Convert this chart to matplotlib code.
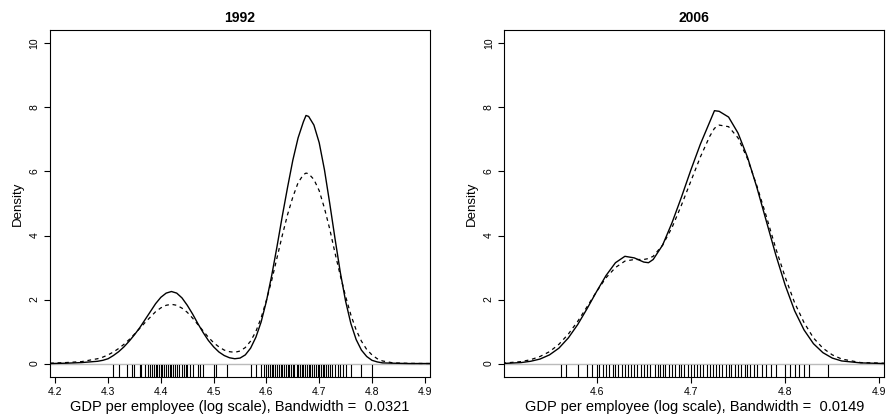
import matplotlib
matplotlib.use("Agg")
import matplotlib.pyplot as plt

plt.rcParams['font.family'] = ['Liberation Sans', 'DejaVu Sans']

x1 = [4.19,4.22,4.25,4.28,4.29,4.30,4.31,4.32,4.33,4.34,4.35,4.36,4.37,4.38,4.39,4.40,4.41,4.42,4.43,4.44,4.45,4.46,4.47,4.48,4.49,4.50,4.51,4.52,4.53,4.54,4.55,4.56,4.57,4.58,4.59,4.60,4.61,4.62,4.63,4.64,4.65,4.66,4.67,4.675,4.68,4.69,4.70,4.71,4.72,4.73,4.74,4.75,4.76,4.77,4.78,4.79,4.80,4.81,4.82,4.84,4.87,4.91]
s1 = [0,0.01,0.03,0.07,0.1,0.15,0.25,0.37,0.52,0.7,0.9,1.12,1.37,1.62,1.87,2.07,2.2,2.25,2.2,2.05,1.82,1.55,1.25,0.97,0.72,0.52,0.36,0.25,0.18,0.15,0.17,0.27,0.48,0.82,1.3,1.95,2.75,3.65,4.6,5.5,6.35,7.05,7.55,7.75,7.72,7.45,6.9,6.05,5.0,3.9,2.85,1.95,1.25,0.75,0.42,0.22,0.1,0.05,0.02,0.01,0,0]
d1 = [0.01,0.03,0.06,0.15,0.2,0.27,0.36,0.47,0.6,0.75,0.92,1.1,1.28,1.45,1.62,1.74,1.82,1.85,1.82,1.73,1.6,1.42,1.22,1.02,0.82,0.65,0.52,0.42,0.37,0.35,0.39,0.5,0.7,1.0,1.43,1.98,2.6,3.3,4.0,4.65,5.2,5.65,5.9,5.95,5.93,5.75,5.4,4.85,4.2,3.45,2.75,2.1,1.52,1.05,0.7,0.44,0.27,0.15,0.08,0.02,0.005,0]
rug1 = [4.31,4.32,4.335,4.345,4.35,4.36,4.363,4.37,4.375,4.38,4.383,4.387,4.39,4.393,4.397,4.40,4.403,4.406,4.41,4.413,4.417,4.42,4.423,4.427,4.43,4.435,4.44,4.443,4.447,4.45,4.455,4.46,4.47,4.475,4.48,4.50,4.505,4.525,
        4.57,4.58,4.59,4.595,4.60,4.603,4.606,4.61,4.613,4.617,4.62,4.623,4.627,4.63,4.633,4.637,4.64,4.643,4.647,4.65,4.653,4.657,4.66,4.663,4.667,4.67,4.673,4.677,4.68,4.683,4.687,4.69,4.693,4.697,4.70,4.703,4.707,4.71,4.713,4.717,4.72,4.725,4.73,4.735,4.74,4.745,4.75,4.76,4.78,4.80]

x2 = [4.50,4.52,4.53,4.54,4.55,4.56,4.57,4.58,4.59,4.60,4.61,4.62,4.63,4.64,4.65,4.655,4.66,4.67,4.68,4.69,4.70,4.71,4.72,4.725,4.73,4.74,4.75,4.76,4.77,4.78,4.79,4.80,4.81,4.82,4.83,4.84,4.85,4.86,4.88,4.905]
s2 = [0,0.03,0.07,0.14,0.27,0.48,0.8,1.22,1.72,2.25,2.75,3.15,3.35,3.3,3.17,3.15,3.25,3.7,4.4,5.2,6.05,6.85,7.55,7.9,7.88,7.7,7.2,6.45,5.5,4.45,3.4,2.45,1.65,1.05,0.62,0.34,0.17,0.08,0.02,0]
d2 = [0.01,0.06,0.12,0.22,0.37,0.6,0.92,1.32,1.78,2.25,2.68,3.0,3.2,3.25,3.25,3.28,3.35,3.7,4.25,4.95,5.7,6.45,7.1,7.35,7.45,7.4,7.05,6.4,5.55,4.6,3.6,2.7,1.9,1.28,0.8,0.48,0.27,0.14,0.03,0.01]
rug2 = [4.562,4.568,4.58,4.59,4.595,4.60,4.603,4.607,4.61,4.613,4.617,4.62,4.623,4.627,4.63,4.633,4.637,4.64,4.643,4.647,4.65,4.653,4.657,4.662,4.665,4.667,4.67,4.673,4.677,4.68,4.683,4.687,4.69,4.693,4.697,4.70,4.703,4.707,4.71,4.713,4.717,4.72,4.723,4.727,4.73,4.733,4.737,4.74,4.743,4.747,4.75,4.753,4.757,4.76,4.763,4.767,4.77,4.775,4.78,4.785,4.79,4.80,4.805,4.81,4.815,4.82,4.825,4.845]

panels = [("1992", x1, s1, d1, rug1, (4.19, 4.91), [4.2,4.3,4.4,4.5,4.6,4.7,4.8,4.9], "0.0321"),
          ("2006", x2, s2, d2, rug2, (4.502, 4.905), [4.6,4.7,4.8,4.9], "0.0149")]

fig = plt.figure(figsize=(8.94, 4.17), dpi=100)
lefts = [0.056, 0.564]
for left, (title, x, s, d, rug, xl, xt, bw) in zip(lefts, panels):
    ax = fig.add_axes([left, 0.096, 0.425, 0.832])
    ax.axhline(0, color="#bbbbbb", lw=1)
    ax.plot(x, s, color="black", lw=1)
    ax.plot(x, d, color="black", lw=0.9, ls=(0, (3, 3)))
    for r in rug:
        ax.plot([r, r], [-0.4, -0.05], color="black", lw=0.8)
    ax.set_xlim(*xl)
    ax.set_ylim(-0.42, 10.42)
    ax.set_xticks(xt)
    ax.set_xticklabels([f"{t:.1f}" for t in xt], fontsize=7.5)
    ax.set_yticks([0,2,4,6,8,10])
    ax.set_yticklabels(["0","2","4","6","8","10"], fontsize=7.5, rotation=90, va="center")
    ax.set_title(title, fontsize=10, fontweight="bold", pad=6)
    ax.set_ylabel("Density", fontsize=9.5)
    ax.set_xlabel(f"GDP per employee (log scale), Bandwidth =  {bw}", fontsize=10.5, labelpad=2)
    ax.tick_params(length=4, width=0.8)
    for sp in ax.spines.values():
        sp.set_linewidth(0.8)

fig.savefig("out.png", dpi=100)
